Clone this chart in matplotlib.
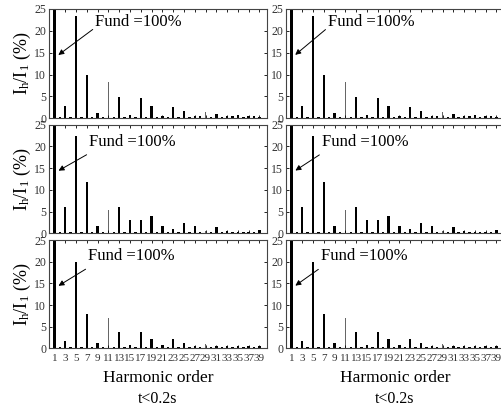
import matplotlib
matplotlib.use("Agg")
import matplotlib.pyplot as plt
import numpy as np

plt.rcParams['font.family'] = ['Liberation Serif', 'DejaVu Serif']
plt.rcParams['mathtext.fontset'] = 'custom'
plt.rcParams['mathtext.rm'] = 'Liberation Serif'

# harmonic spectra, Ih/I1 in %, orders 1..39 (fundamental = 100)
orders = np.arange(1, 40)
row1 = [100, 0.4, 2.9, 0.4, 23.4, 0.4, 10.0, 0.4, 1.3, 0.4, 8.2, 0.4, 4.9, 0.4, 0.7, 0.4,
        4.6, 0.3, 2.9, 0.3, 0.6, 0.3, 2.6, 0.4, 1.6, 0.3, 0.6, 0.5, 1.5, 0.4, 0.9, 0.4,
        0.5, 0.5, 0.7, 0.4, 0.5, 0.5, 0.4]
row2 = [100, 0.3, 6.0, 0.3, 22.3, 0.3, 11.8, 0.3, 1.7, 0.3, 5.4, 0.3, 6.0, 0.3, 3.1, 0.3,
        3.1, 0.3, 4.0, 0.3, 1.7, 0.3, 1.0, 0.3, 2.3, 0.3, 1.7, 0.3, 0.5, 0.3, 1.4, 0.3,
        0.6, 0.3, 0.4, 0.3, 0.4, 0.3, 0.7]
row3 = [100, 0.3, 1.8, 0.4, 20.0, 0.3, 8.0, 0.3, 1.3, 0.3, 7.1, 0.3, 3.7, 0.4, 0.8, 0.4,
        3.8, 0.3, 2.2, 0.4, 0.8, 0.4, 2.2, 0.4, 1.2, 0.4, 0.6, 0.4, 1.0, 0.4, 0.6, 0.4,
        0.5, 0.4, 0.6, 0.4, 0.5, 0.4, 0.5]
rows = [row1, row2, row3]
xtick_labels = [str(n) for n in range(1, 40, 2)]

thin = [11, 29]

fig = plt.figure(figsize=(5.01, 4.07), dpi=100)
lefts = [0.098, 0.571]
width = 0.435
bottoms = [0.7093, 0.4268, 0.1442]
heights = [0.2686, 0.2668, 0.266]
# annotation: (text x, text y, arrow tail x, tail y) per row
ann = [(8.5, 22.0, 8.5, 20.7), (7.4, 21.1, 7.4, 18.4), (7.3, 21.3, 7.2, 18.6)]

for c in range(2):
    for r in range(3):
        ax = fig.add_axes([lefts[c], bottoms[r], width, heights[r]])
        vals = np.array(rows[r])
        widths = np.where(orders == 1, 0.6, np.where(np.isin(orders, thin), 0.2, 0.45))
        colors = ['#666666' if o in thin else 'black' for o in orders]
        ax.bar(orders, vals, width=widths, color=colors, edgecolor='none')
        ax.set_xlim(0, 40.4)
        ax.set_ylim(0, 25)
        ax.set_yticks([0, 5, 10, 15, 20, 25])
        ax.set_xticks(range(1, 40, 2))
        ax.tick_params(direction='in', top=True, right=True, length=2.5, width=0.6,
                       labelsize=8.5, pad=2, labelcolor='#333333')
        for s in ax.spines.values():
            s.set_linewidth(0.8)
            s.set_color('#444444')
        if r == 2:
            ax.set_xticklabels(xtick_labels, fontsize=8)
            ax.tick_params(axis='x', pad=4)
            ax.set_xlabel('Harmonic order', fontsize=12.5, labelpad=5)
            ax.text(0.5, -0.47, 't<0.2s', transform=ax.transAxes, ha='center',
                    va='center', fontsize=11.5)
        else:
            ax.set_xticklabels([])
        if c == 0:
            ax.set_ylabel(r'$\mathregular{I_h/I_1}$ (%)', fontsize=13, labelpad=1)
        tx, ty, ax0, ay0 = ann[r]
        if c == 1:
            tx -= 0.8
            ax0 -= 0.8
        ax.text(tx, ty, 'Fund =100%', fontsize=12, va='center', ha='left')
        ax.annotate('', xy=(1.3, 14.1), xytext=(ax0, ay0),
                    arrowprops=dict(arrowstyle='-|>', color='black', lw=0.7,
                                    mutation_scale=8))

fig.savefig('out.png', dpi=100)
